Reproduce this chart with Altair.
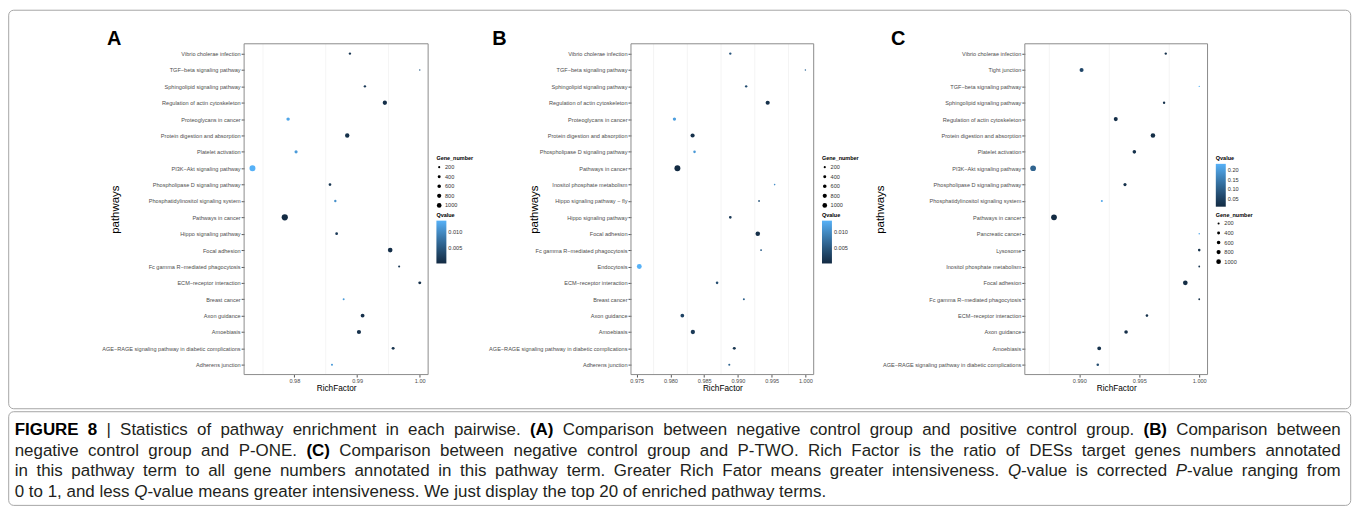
import altair as alt
import pandas as pd

# ---------------- data ----------------
A_paths = ["Vibrio cholerae infection", "TGF−beta signaling pathway", "Sphingolipid signaling pathway",
           "Regulation of actin cytoskeleton", "Proteoglycans in cancer", "Protein digestion and absorption",
           "Platelet activation", "PI3K−Akt signaling pathway", "Phospholipase D signaling pathway",
           "Phosphatidylinositol signaling system", "Pathways in cancer", "Hippo signaling pathway",
           "Focal adhesion", "Fc gamma R−mediated phagocytosis", "ECM−receptor interaction", "Breast cancer",
           "Axon guidance", "Amoebiasis", "AGE−RAGE signaling pathway in diabetic complications",
           "Adherens junction"]
A_rich = [0.98886, 1.000, 0.99125, 0.99443, 0.97900, 0.98843, 0.98027, 0.97332, 0.98568, 0.98653,
          0.97847, 0.98674, 0.99528, 0.99671, 1.000, 0.98786, 0.99088, 0.99030, 0.99575, 0.98600]
A_gene = [250, 100, 250, 850, 550, 900, 450, 1650, 350, 250, 1750, 350, 1000, 200, 400, 180, 700, 800, 400, 200]
A_q = [0.0015, 0.006, 0.002, 0.0008, 0.0125, 0.001, 0.0115, 0.0135, 0.0015, 0.0105,
       0.0003, 0.002, 0.0008, 0.002, 0.001, 0.0115, 0.001, 0.001, 0.0012, 0.0115]

B_paths = ["Vibrio cholerae infection", "TGF−beta signaling pathway", "Sphingolipid signaling pathway",
           "Regulation of actin cytoskeleton", "Proteoglycans in cancer", "Protein digestion and absorption",
           "Phospholipase D signaling pathway", "Pathways in cancer", "Inositol phosphate metabolism",
           "Hippo signaling pathway − fly", "Hippo signaling pathway", "Focal adhesion",
           "Fc gamma R−mediated phagocytosis", "Endocytosis", "ECM−receptor interaction", "Breast cancer",
           "Axon guidance", "Amoebiasis", "AGE−RAGE signaling pathway in diabetic complications",
           "Adherens junction"]
B_rich = [0.98887, 1.000, 0.99122, 0.99441, 0.98059, 0.98328, 0.98357, 0.98103, 0.99544, 0.99313,
          0.98887, 0.99294, 0.99343, 0.97538, 0.98691, 0.99088, 0.98176, 0.98332, 0.98946, 0.98872]
B_gene = [250, 100, 250, 800, 500, 800, 300, 1600, 120, 150, 350, 950, 180, 1100, 300, 180, 650, 850, 400, 200]
B_q = [0.005, 0.007, 0.004, 0.001, 0.012, 0.001, 0.0115, 0.0003, 0.0105, 0.005,
       0.002, 0.0008, 0.006, 0.0137, 0.004, 0.006, 0.003, 0.002, 0.0015, 0.0065]

C_paths = ["Vibrio cholerae infection", "Tight junction", "TGF−beta signaling pathway",
           "Sphingolipid signaling pathway", "Regulation of actin cytoskeleton", "Protein digestion and absorption",
           "Platelet activation", "PI3K−Akt signaling pathway", "Phospholipase D signaling pathway",
           "Phosphatidylinositol signaling system", "Pathways in cancer", "Pancreatic cancer", "Lysosome",
           "Inositol phosphate metabolism", "Focal adhesion", "Fc gamma R−mediated phagocytosis",
           "ECM−receptor interaction", "Axon guidance", "Amoebiasis",
           "AGE−RAGE signaling pathway in diabetic complications"]
C_rich = [0.99721, 0.99019, 1.000, 0.99707, 0.99304, 0.99614, 0.99459, 0.98615, 0.99381, 0.99188,
          0.98789, 1.000, 1.000, 1.000, 0.99884, 1.000, 0.99564, 0.99390, 0.99166, 0.99154]
C_gene = [250, 750, 100, 250, 750, 950, 600, 1500, 450, 200, 1500, 100, 300, 150, 1000, 150, 300, 600, 700, 300]
C_q = [0.02, 0.06, 0.235, 0.02, 0.015, 0.012, 0.02, 0.11, 0.02, 0.22,
       0.007, 0.22, 0.02, 0.03, 0.01, 0.02, 0.02, 0.015, 0.02, 0.07]

A_ticks = [0.98, 0.99, 1.00]
A_minor = [0.975, 0.985, 0.995]
B_ticks = [0.975, 0.980, 0.985, 0.990, 0.995, 1.000]
B_minor = [0.9775, 0.9825, 0.9875, 0.9925, 0.9975]
C_ticks = [0.990, 0.995, 1.000]
C_minor = [0.9875, 0.9925, 0.9975]

A_qticks = [0.005, 0.010]
B_qticks = [0.005, 0.010]
C_qticks = [0.05, 0.10, 0.15, 0.20]
gene_breaks = [200, 400, 600, 800, 1000]

# caption: runs of (text, style) per line; b = bold, i = italic, n = normal
caption_runs = [
    [("FIGURE 8", "b"), (" | Statistics of pathway enrichment in each pairwise. ", "n"), ("(A)", "b"),
     (" Comparison between negative control group and positive control group. ", "n"), ("(B)", "b"),
     (" Comparison between", "n")],
    [("negative control group and P-ONE. ", "n"), ("(C)", "b"),
     (" Comparison between negative control group and P-TWO. Rich Factor is the ratio of DESs target genes numbers annotated", "n")],
    [("in this pathway term to all gene numbers annotated in this pathway term. Greater Rich Fator means greater intensiveness. ", "n"),
     ("Q", "i"), ("-value is corrected ", "n"), ("P", "i"), ("-value ranging from", "n")],
    [("0 to 1, and less ", "n"), ("Q", "i"),
     ("-value means greater intensiveness. We just display the top 20 of enriched pathway terms.", "n")],
]

FONT = "Liberation Sans"
H = 332
LBL = 5.6

# Arial / Liberation Sans advance widths (1/1000 em) for caption layout
_W = {' ': 278, '|': 260, '.': 278, ',': 278, '(': 333, ')': 333, '-': 333}
for _c in "0123456789":
    _W[_c] = 556
_W.update(dict(zip("ABCDEFGHIJKLMNOPQRSTUVWXYZ",
                   [667, 667, 722, 722, 667, 611, 778, 722, 278, 500, 667, 556, 833, 722, 778, 667, 778, 722, 667,
                    611, 722, 667, 944, 667, 667, 611])))
_W.update(dict(zip("abcdefghijklmnopqrstuvwxyz",
                   [556, 556, 500, 556, 556, 278, 556, 556, 222, 222, 500, 222, 833, 556, 556, 556, 556, 333, 500,
                    278, 556, 500, 722, 500, 500, 500])))
_WB = dict(_W)
_WB.update({'A': 722, 'B': 722, 'C': 722, 'R': 722, 'U': 722, '|': 280})


def text_w(s, style, size):
    tab = _WB if style == "b" else _W
    return sum(tab.get(c, 556) for c in s) * size / 1000.0


def panel(letter, paths, rich, gene, q, ticks, minor, xfmt, qticks, qfmt, pw, width,
          letter_x, title_x, gene_first, extra=None):
    df = pd.DataFrame({"pathways": paths, "RichFactor": rich, "Gene_number": gene, "Qvalue": q})
    lo, hi = min(rich), max(rich)
    ex = (hi - lo) * 0.05
    xs = alt.Scale(domain=[lo - ex, hi + ex], nice=False, zero=False, range=[0, pw])
    ys = alt.Scale(type="point", padding=0.6)
    xaxis = alt.Axis(values=ticks, format=xfmt, grid=False, domain=False, tickSize=2.5,
                     tickColor="#555555", labelFontSize=LBL, labelColor="#4D4D4D", labelFont=FONT,
                     labelPadding=1.5, title="RichFactor", titleFont=FONT, titleFontSize=8.3,
                     titleFontWeight="normal", titleColor="black", titleY=13.6,
                     titleBaseline="middle", titleX=pw / 2)

    grid = alt.Chart(pd.DataFrame({"RichFactor": minor})).mark_rule(color="#EDEDED", strokeWidth=0.6).encode(
        x=alt.X("RichFactor:Q", scale=xs, axis=xaxis)
    )
    y_top = 113 if gene_first else 169.5
    y_bot = 169.5 if gene_first else 112.5
    size_leg = alt.Legend(title="Gene_number", orient="none", legendX=pw + 8.3, legendY=y_top,
                          values=gene_breaks, format="d", symbolFillColor="black", symbolStrokeColor="black",
                          symbolStrokeWidth=0, symbolType="circle", labelFontSize=LBL, titleFontSize=5.5,
                          titleFontWeight="bold", rowPadding=2.6, titlePadding=2.5, labelOffset=3,
                          labelFont=FONT, titleFont=FONT, labelColor="#333333")
    col_leg = alt.Legend(title="Qvalue", orient="none", legendX=pw + 8.3, legendY=y_bot,
                         values=qticks, format=qfmt, gradientLength=43, gradientThickness=10,
                         labelFontSize=LBL, titleFontSize=5.5, titleFontWeight="bold", titlePadding=2.5,
                         gradientStrokeWidth=0, labelFont=FONT, titleFont=FONT, labelColor="#333333",
                         direction="vertical")
    pts = alt.Chart(df).mark_circle(opacity=1).encode(
        x=alt.X("RichFactor:Q", scale=xs, axis=xaxis),
        y=alt.Y("pathways:N", sort=paths, scale=ys,
                axis=alt.Axis(domain=False, tickSize=3, tickColor="#555555", labelFontSize=LBL,
                              labelColor="#4D4D4D", labelFont=FONT, labelPadding=1, title="pathways",
                              titleFont=FONT, titleFontSize=11.5, titleFontWeight="normal", titleColor="black",
                              titleAngle=270, titleX=title_x, titleY=H / 2, titleAlign="center",
                              titleBaseline="middle", labelLimit=400)),
        size=alt.Size("Gene_number:Q", scale=alt.Scale(domain=[0, 1000], range=[0, 22], zero=True),
                      legend=size_leg),
        color=alt.Color("Qvalue:Q",
                        scale=alt.Scale(domain=[min(q), max(q)], range=["#132B43", "#56B1F7"],
                                        interpolate="lab", nice=False, zero=False),
                        legend=col_leg),
    )
    border = alt.Chart(pd.DataFrame({"k": [0]})).mark_rect(fillOpacity=0, stroke="#8C8C8C", strokeWidth=1).encode(
        x=alt.value(0), x2=alt.value(pw), y=alt.value(0), y2=alt.value(H)
    )
    let = alt.Chart(pd.DataFrame({"t": [letter]})).mark_text(
        font=FONT, fontSize=20, fontWeight="bold", align="left", baseline="alphabetic", color="black"
    ).encode(text="t:N", x=alt.value(letter_x), y=alt.value(1))
    layers = [grid, pts, border, let]
    if extra:
        layers += extra
    return alt.layer(*layers).properties(width=width, height=H).resolve_scale(color="independent", size="independent")


# ---------------- frames and caption (relative to panel A plot origin) ----------------
one = pd.DataFrame({"k": [0]})
frame_top = alt.Chart(one).mark_rect(fillOpacity=0, stroke="#A6A6A6", strokeWidth=1, cornerRadius=5).encode(
    x=alt.value(-236.3), x2=alt.value(1110.7), y=alt.value(-33.7), y2=alt.value(366.3))
frame_cap = alt.Chart(one).mark_rect(fillOpacity=0, stroke="#A6A6A6", strokeWidth=1, cornerRadius=5).encode(
    x=alt.value(-236.3), x2=alt.value(1110.7), y=alt.value(369.3), y2=alt.value(463.3))

CAP_SIZE = 17
CAP_X0 = -230.3
CAP_W = 1331.0
cap_layers = []
for li, runs in enumerate(caption_runs):
    # split into words made of styled pieces
    words, cur = [], []
    for txt, st in runs:
        buf = ""
        for ch in txt:
            if ch == " ":
                if buf:
                    cur.append((buf, st))
                    buf = ""
                if cur:
                    words.append(cur)
                    cur = []
            else:
                buf += ch
        if buf:
            cur.append((buf, st))
    if cur:
        words.append(cur)
    wlen = [sum(text_w(t, s, CAP_SIZE) for t, s in w) for w in words]
    natural_sp = text_w(" ", "n", CAP_SIZE)
    if li < len(caption_runs) - 1:
        sp = (CAP_W - sum(wlen)) / (len(words) - 1)
    else:
        sp = natural_sp
    xpos = CAP_X0
    yv = 387.3 + 21 * li
    for w, wl in zip(words, wlen):
        px = xpos
        for t, s in w:
            cap_layers.append(
                alt.Chart(pd.DataFrame({"t": [t]})).mark_text(
                    font=FONT, fontSize=CAP_SIZE, align="left", baseline="middle",
                    color="#000000" if s == "b" else "#231F20",
                    fontWeight="bold" if s == "b" else "normal",
                    fontStyle="italic" if s == "i" else "normal",
                ).encode(text="t:N", x=alt.value(px), y=alt.value(yv))
            )
            px += text_w(t, s, CAP_SIZE)
        xpos += wl + sp

pA = panel("A", A_paths, A_rich, A_gene, A_q, A_ticks, A_minor, ".2f", A_qticks, ".3f", 184.7, 184.7,
           -137.6, -128.6, True, extra=[frame_top, frame_cap] + cap_layers)
pB = panel("B", B_paths, B_rich, B_gene, B_q, B_ticks, B_minor, ".3f", B_qticks, ".3f", 183.4, 191.7,
           -139.3, -97, True)
pC = panel("C", C_paths, C_rich, C_gene, C_q, C_ticks, C_minor, ".3f", C_qticks, ".2f", 183.4, 183.4,
           -134.3, -145, False)

chart = alt.hconcat(pA, pB, pC, spacing=203.3, bounds="flush").resolve_scale(
    x="independent", y="independent", color="independent", size="independent"
).properties(padding=0, background="white").configure_view(stroke=None)

chart.save("out.html", embed_options={"renderer": "svg", "actions": False})
